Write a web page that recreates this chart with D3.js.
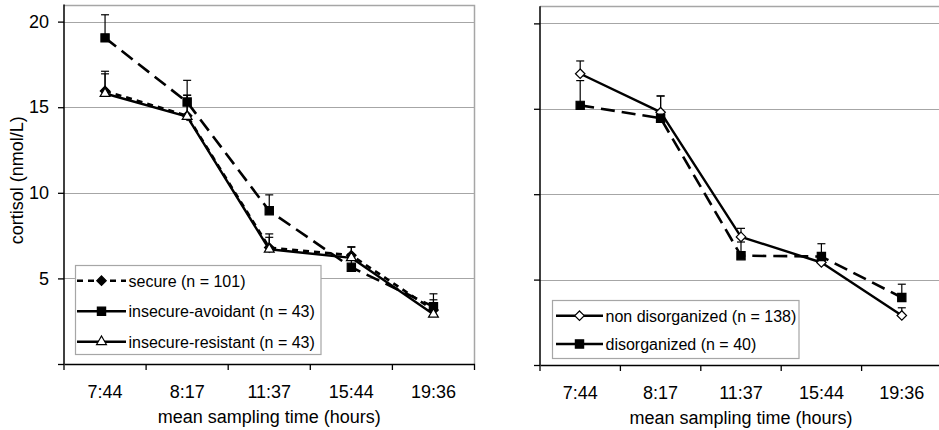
<!DOCTYPE html>
<html>
<head>
<meta charset="utf-8">
<script src="https://cdn.jsdelivr.net/npm/d3@7"></script>
<style>
  html, body { margin: 0; padding: 0; background: #fff; }
  svg { display: block; font-family: "Liberation Sans", Arial, sans-serif; }
</style>
</head>
<body>
<svg id="chart" width="939" height="430"></svg>
<script>
// ---- data ----
const categories = ["7:44", "8:17", "11:37", "15:44", "19:36"];
const yTicks = [0, 5, 10, 15, 20];

const secureValues = [15.95, 14.5, 6.8, 6.35, 3.15];
const secureErrors = [1.15, 1.2, 0.6, 0.5, 0.6];
const avoidantValues = [19.05, 15.3, 8.95, 5.65, 3.35];
const avoidantErrors = [1.35, 1.27, 0.93, 0.55, 0.75];
const resistantValues = [15.8, 14.45, 6.7, 6.2, 2.9];
const resistantErrors = [1.15, 1.25, 0.9, 0.62, 0.65];

const nonDisValues = [17.05, 14.8, 7.5, 6.0, 2.9];
const nonDisErrors = [0.75, 0.95, 0.5, 0.4, 0.45];
const disValues = [15.2, 14.45, 6.4, 6.35, 3.95];
const disErrors = [1.45, 1.3, 0.8, 0.75, 0.78];

const leftLabels = ["secure (n = 101)", "insecure-avoidant (n = 43)", "insecure-resistant (n = 43)"];
const rightLabels = ["non disorganized (n = 138)", "disorganized (n = 40)"];
const yTitle = "cortisol (nmol/L)";
const xTitle = "mean sampling time (hours)";

// ---- styles ----
const styles = {
  secure:    { dash: "6,5",  width: 2.6, marker: "diamond",  fill: "#000", legendDash: "6,5" },
  avoidant:  { dash: "14,7", width: 2.6, marker: "square",   fill: "#000", legendDash: "none" },
  resistant: { dash: null,   width: 2.4, marker: "triangle", fill: "#fff", legendDash: "none" },
  nondis:    { dash: null,   width: 2.4, marker: "diamond",  fill: "#fff", legendDash: "none" },
  dis:       { dash: "14,7", width: 2.6, marker: "square",   fill: "#000", legendDash: "none" }
};

const svg = d3.select("#chart");

const diamondType = {
  draw(ctx, size) {
    const r = Math.sqrt(size) / 2;
    ctx.moveTo(0, -r); ctx.lineTo(r, 0); ctx.lineTo(0, r); ctx.lineTo(-r, 0); ctx.closePath();
  }
};
function markerPath(kind) {
  if (kind === "diamond") return d3.symbol().type(diamondType).size(90)();
  if (kind === "square") return d3.symbol().type(d3.symbolSquare).size(68)();
  return d3.symbol().type(d3.symbolTriangle).size(42)();
}

function drawPanel(cfg) {
  const g = svg.append("g");
  const x = d3.scaleBand().domain(categories).range([cfg.x0, cfg.x1]).padding(0);
  const y = d3.scaleLinear().domain([0, 21]).range([cfg.yb, cfg.yt]);
  const cx = c => x(c) + x.bandwidth() / 2;

  // gridlines
  g.selectAll(".grid").data(yTicks.filter(t => t > 0)).enter().append("line")
    .attr("x1", cfg.x0).attr("x2", cfg.x1)
    .attr("y1", d => Math.round(y(d)) + 0.5).attr("y2", d => Math.round(y(d)) + 0.5)
    .attr("stroke", "#a6a6a6").attr("stroke-width", 1.2);

  // plot border (top, right)
  g.append("path")
    .attr("d", `M${cfg.x0},${Math.round(y(21)) + 0.5}H${cfg.x1}V${cfg.yb}`)
    .attr("fill", "none").attr("stroke", "#a6a6a6").attr("stroke-width", 1.5);

  // y axis
  const ya = g.append("g").attr("transform", `translate(${cfg.x0},0)`)
    .call(d3.axisLeft(y).tickValues(yTicks).tickSize(6).tickPadding(9)
      .tickFormat(d => (cfg.yLabels && d > 0) ? d : ""));
  ya.select(".domain").attr("d", `M0,${cfg.yb}V${y(21)}`).attr("stroke", "#000").attr("stroke-width", 1.5);
  ya.selectAll(".tick line").attr("stroke", "#000").attr("stroke-width", 1.3);
  ya.selectAll("text").attr("font-size", 18).attr("fill", "#000")
    .attr("font-family", "Liberation Sans, Arial, sans-serif");

  // x axis
  const xa = g.append("g").attr("transform", `translate(0,${cfg.yb})`)
    .call(d3.axisBottom(x).tickSize(0).tickPadding(21));
  xa.select(".domain").attr("stroke", "#000").attr("stroke-width", 1.5);
  xa.selectAll("text").attr("font-size", 18).attr("fill", "#000")
    .attr("font-family", "Liberation Sans, Arial, sans-serif");
  const bounds = categories.map(c => x(c)).concat([cfg.x1]);
  g.selectAll(".xt").data(bounds).enter().append("line")
    .attr("x1", d => d).attr("x2", d => d)
    .attr("y1", cfg.yb).attr("y2", cfg.yb + 6)
    .attr("stroke", "#000").attr("stroke-width", 1.3);

  // titles
  g.append("text").attr("x", (cfg.x0 + cfg.x1) / 2).attr("y", cfg.yb + 59)
    .attr("text-anchor", "middle").attr("font-size", 18).text(xTitle);
  if (cfg.yTitle) {
    g.append("text").attr("transform", `translate(23,${(cfg.yt + cfg.yb) / 2 - 4}) rotate(-90)`)
      .attr("text-anchor", "middle").attr("font-size", 18).text(yTitle);
  }

  const line = d3.line().x((d, i) => cx(categories[i])).y(d => y(d));

  // lines
  cfg.series.forEach(s => {
    g.append("path").datum(s.values).attr("d", line)
      .attr("fill", "none").attr("stroke", "#000")
      .attr("stroke-width", s.style.width)
      .attr("stroke-dasharray", s.style.dash)
      .attr("stroke-linejoin", "round");
  });
  // error bars
  cfg.series.forEach(s => {
    const eb = g.append("g");
    s.values.forEach((v, i) => {
      const px = cx(categories[i]);
      eb.append("line").attr("x1", px).attr("x2", px)
        .attr("y1", y(v)).attr("y2", y(v + s.errors[i]))
        .attr("stroke", "#000").attr("stroke-width", 1.2);
      eb.append("line").attr("x1", px - 4).attr("x2", px + 4)
        .attr("y1", y(v + s.errors[i])).attr("y2", y(v + s.errors[i]))
        .attr("stroke", "#000").attr("stroke-width", 1.2);
    });
  });
  // markers
  cfg.series.forEach(s => {
    g.selectAll(null).data(s.values).enter().append("path")
      .attr("d", markerPath(s.style.marker))
      .attr("transform", (d, i) => `translate(${cx(categories[i])},${y(d)})`)
      .attr("fill", s.style.fill).attr("stroke", "#000").attr("stroke-width", 1.2);
  });

  // legend
  const L = cfg.legend;
  const lg = g.append("g");
  lg.append("rect").attr("x", L.x).attr("y", L.y).attr("width", L.w).attr("height", L.h)
    .attr("fill", "#fff").attr("stroke", "#a6a6a6").attr("stroke-width", 1.2);
  cfg.series.forEach((s, i) => {
    const ly = L.firstRow + i * L.rowGap;
    lg.append("line").attr("x1", L.lx0).attr("x2", L.lx1).attr("y1", ly).attr("y2", ly)
      .attr("stroke", "#000").attr("stroke-width", s.style.width)
      .attr("stroke-dasharray", s.style.legendDash);
    lg.append("path").attr("d", markerPath(s.style.marker))
      .attr("transform", `translate(${(L.lx0 + L.lx1) / 2},${ly})`)
      .attr("fill", s.style.fill).attr("stroke", "#000").attr("stroke-width", 1.2);
    lg.append("text").attr("x", L.lx1 + 2.5).attr("y", ly + 6)
      .attr("font-size", 16).text(s.label);
  });
}

drawPanel({
  x0: 64, x1: 474.5, yt: 4.5, yb: 364, yLabels: true, yTitle: true,
  series: [
    { values: secureValues, errors: secureErrors, style: styles.secure, label: leftLabels[0] },
    { values: avoidantValues, errors: avoidantErrors, style: styles.avoidant, label: leftLabels[1] },
    { values: resistantValues, errors: resistantErrors, style: styles.resistant, label: leftLabels[2] }
  ],
  legend: { x: 75.5, y: 265.5, w: 245.5, h: 89, lx0: 77, lx1: 126, firstRow: 280.7, rowGap: 30.5 }
});

drawPanel({
  x0: 540, x1: 942, yt: 6.3, yb: 365, yLabels: false, yTitle: false,
  series: [
    { values: nonDisValues, errors: nonDisErrors, style: styles.nondis, label: rightLabels[0] },
    { values: disValues, errors: disErrors, style: styles.dis, label: rightLabels[1] }
  ],
  legend: { x: 552.5, y: 300.5, w: 246.5, h: 58, lx0: 556, lx1: 603, firstRow: 315.7, rowGap: 28.3 }
});
</script>
</body>
</html>
